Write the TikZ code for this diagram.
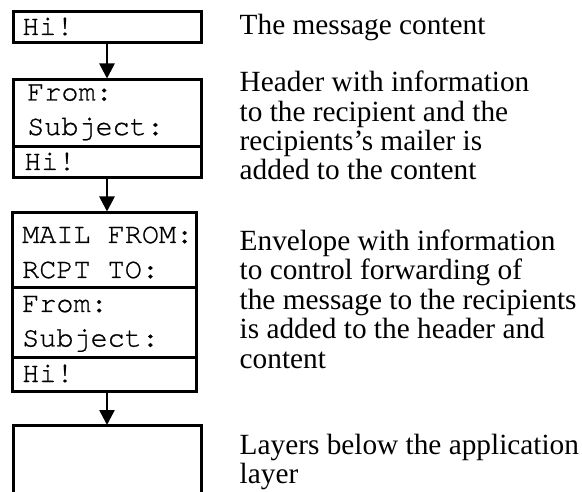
\documentclass[tikz,border=0pt]{standalone}
\usepackage{fontspec}
\setmainfont{Liberation Serif}
\setmonofont[FakeBold=0.8]{TeX Gyre Cursor}
\usetikzlibrary{arrows.meta}
\tikzset{
  box/.style={draw, line width=3pt, rectangle, inner sep=0pt},
  divider/.style={line width=3pt},
  arr/.style={line width=2.6pt, -{Triangle[width=15pt,length=15pt]}},
  mono/.style={inner sep=0pt, anchor=base west, font=\fontsize{28.5}{34}\ttfamily},
  desc/.style={inner sep=0pt, anchor=base west, align=left, font=\fontsize{29.3}{29.4}\selectfont},
}
\begin{document}
\begin{tikzpicture}[x=1pt,y=-1pt]
\useasboundingbox (0,0) rectangle (582,492);
% box 1
\node[box, minimum width=188pt, minimum height=31pt] (b1) at (107,27.5) {};
\node[mono] (t1) at (22,35) {Hi!};
% box 2
\node[box, minimum width=188pt, minimum height=98pt] (b2) at (107,129) {};
\coordinate (b2l) at (13,147);
\coordinate (b2r) at (201,147);
\draw[divider] (b2l) -- (b2r);
\node[mono] (t2a) at (27,100.5) {From:};
\node[mono] (t2b) at (27,135) {Subject:};
\node[mono] (t2c) at (24,170) {Hi!};
% box 3
\node[box, minimum width=184pt, minimum height=178pt] (b3) at (104,302) {};
\coordinate (b3l1) at (12,287.5);
\coordinate (b3r1) at (196,287.5);
\coordinate (b3l2) at (12,358);
\coordinate (b3r2) at (196,358);
\draw[divider] (b3l1) -- (b3r1);
\draw[divider] (b3l2) -- (b3r2);
\node[mono] (t3a) at (22,243) {MAIL FROM:};
\node[mono] (t3b) at (22,278) {RCPT TO:};
\node[mono] (t3c) at (22,312) {From:};
\node[mono] (t3d) at (22,346.5) {Subject:};
\node[mono] (t3e) at (22,382) {Hi!};
% box 4 (open at the bottom)
\coordinate (b4bl) at (13,494);
\coordinate (b4tl) at (13,425);
\coordinate (b4tr) at (201,425);
\coordinate (b4br) at (201,494);
\coordinate (b4n) at (107,425);
\draw[line width=3pt] (b4bl) -- (b4tl) -- (b4tr) -- (b4br);
% arrows
\draw[arr] (b1.south) -- (b2.north);
\draw[arr] (b2.south) -- (b3.north -| b2.south);
\draw[arr] (b3.south -| b4n) -- (b4n);
% descriptions (anchored at the baseline of their last line)
\node[desc] (d1) at (239.5,35) {The message content};
\node[desc] (d2) at (239.5,180) {Header with information\\to the recipient and the\\recipients’s mailer is\\added to the content};
\node[desc] (d3) at (239.5,368) {Envelope with information\\to control forwarding of\\the message to the recipients\\is added to the header and\\content};
\node[desc] (d4) at (239.5,483.5) {Layers below the application\\layer};
\end{tikzpicture}
\end{document}
